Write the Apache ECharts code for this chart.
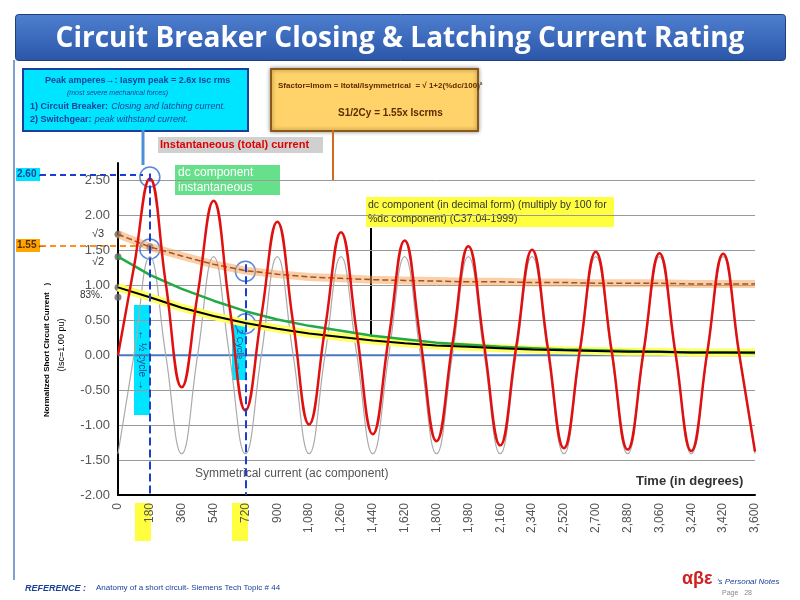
<!DOCTYPE html>
<html><head><meta charset="utf-8">
<script src="https://cdn.jsdelivr.net/npm/echarts@6/dist/echarts.min.js"></script>
<style>body{margin:0;background:#fff}#c{width:800px;height:600px}</style></head>
<body><div id="c"></div>
<script>
// degrees sampled every 90
const degrees = [];
for (let d = 0; d <= 3600; d += 90) degrees.push(d);
const totalCurrent = [0,1.26,2.53,1.03,-0.46,0.87,2.21,0.70,-0.79,0.56,1.91,0.46,-0.99,0.38,1.76,0.31,-1.13,0.25,1.64,0.20,-1.23,0.16,1.56,0.13,-1.29,0.11,1.51,0.09,-1.33,0.07,1.48,0.06,-1.35,0.05,1.46,0.04,-1.37,0.04,1.45,0.03,-1.38];
const symmetrical = [-1.41,0,1.41,0,-1.41,0,1.41,0,-1.41,0,1.41,0,-1.41,0,1.41,0,-1.41,0,1.41,0,-1.41,0,1.41,0,-1.41,0,1.41,0,-1.41,0,1.41,0,-1.41,0,1.41,0,-1.41,0,1.41,0,-1.41];
// every 180 degrees
const deg180 = [0,180,360,540,720,900,1080,1260,1440,1620,1800,1980,2160,2340,2520,2700,2880,3060,3240,3420,3600];
const dcInst = [1.41,1.15,0.95,0.78,0.63,0.51,0.42,0.35,0.28,0.23,0.18,0.15,0.12,0.10,0.08,0.07,0.06,0.05,0.04,0.04,0.03];
const dcDecimal = [0.97,0.83,0.68,0.56,0.46,0.38,0.31,0.26,0.21,0.17,0.14,0.12,0.10,0.08,0.07,0.06,0.05,0.05,0.04,0.04,0.04];
const sFactor = [1.73,1.55,1.42,1.30,1.21,1.16,1.12,1.10,1.08,1.07,1.06,1.05,1.05,1.04,1.04,1.03,1.03,1.03,1.02,1.02,1.02];
const xTicks = [0,180,360,540,720,900,1080,1260,1440,1620,1800,1980,2160,2340,2520,2700,2880,3060,3240,3420,3600];
const yTicks = [-2,-1.5,-1,-0.5,0,0.5,1,1.5,2,2.5];

const pair = (xs, ys) => xs.map((x, i) => [x, ys[i]]);
const ch = echarts.init(document.getElementById('c'));
ch.setOption({
  animation:false,
  title:{text:'Circuit Breaker Closing & Latching Current Rating',left:'center',top:20,textStyle:{color:'#fff',fontSize:28,fontWeight:'bold',fontFamily:'Open Sans'}},
  graphic:[
    {type:'rect',left:15,top:14,shape:{width:770,height:46,r:3},z:-1,style:{fill:new echarts.graphic.LinearGradient(0,0,0,1,[{offset:0,color:'#4f7fd0'},{offset:1,color:'#2a56a8'}]),stroke:'#1e3f80'}},
    {type:'line',shape:{x1:14,y1:60,x2:14,y2:580},style:{stroke:'#7f9fd0',lineWidth:2}},
    {type:'rect',left:22,top:68,shape:{width:225,height:62},style:{fill:'#00e5ff',stroke:'#1a3f9a',lineWidth:2}},
    {type:'text',left:30,top:74,style:{rich:{a:{fill:'#1a3f9a',fontSize:9,fontWeight:'bold'},b:{fill:'#1a3f9a',fontSize:7,fontStyle:'italic'},c:{fill:'#1a3f9a',fontSize:9,fontStyle:'italic'}},text:'{a|      Peak amperes→: Iasym peak = 2.6x Isc rms}\n{b|                   (most severe mechanical forces)}\n{a|1) Circuit Breaker:} {c|Closing and latching current.}\n{a|2) Switchgear:} {c|peak withstand current.}',lineHeight:13}},
    {type:'rect',left:270,top:68,shape:{width:207,height:62},style:{fill:'#ffd36a',stroke:'#8b5a1a',lineWidth:2,shadowBlur:4,shadowColor:'rgba(0,0,0,0.4)'}},
    {type:'text',left:278,top:82,style:{text:'Sfactor=Imom = Itotal/Isymmetrical  = √ 1+2(%dc/100)²',fill:'#5a2d00',fontSize:8,fontWeight:'bold'}},
    {type:'text',left:338,top:108,style:{text:'S1/2Cy = 1.55x Iscrms',fill:'#5a2d00',fontSize:10,fontWeight:'bold'}},
    {type:'line',shape:{x1:143,y1:130,x2:143,y2:165},style:{stroke:'#4a90d9',lineWidth:3}},
    {type:'line',shape:{x1:333,y1:130,x2:333,y2:180},style:{stroke:'#d2691e',lineWidth:2}},
    {type:'rect',left:158,top:137,shape:{width:165,height:16},style:{fill:'#d0d0d0'}},
    {type:'text',left:160,top:139,style:{text:'Instantaneous (total) current',fill:'#e00000',fontSize:11,fontWeight:'bold'}},
    {type:'rect',left:175,top:165,shape:{width:105,height:30},style:{fill:'#66e08a'}},
    {type:'text',left:178,top:165,style:{text:'dc component\ninstantaneous',fill:'#fff',fontSize:12,lineHeight:15}},
    {type:'rect',left:366,top:197,shape:{width:248,height:30},style:{fill:'#ffff40'}},
    {type:'text',left:368,top:198,style:{text:'dc component (in decimal form) (multiply by 100 for\n%dc component) (C37.04-1999)',fill:'#333',fontSize:10.5,lineHeight:14}},
    {type:'line',shape:{x1:371,y1:228,x2:371,y2:338},style:{stroke:'#000',lineWidth:2}},
    {type:'line',shape:{x1:40,y1:175,x2:143,y2:175},style:{stroke:'#1a3fd0',lineWidth:2,lineDash:[6,4]}},
    {type:'line',shape:{x1:40,y1:246,x2:143,y2:246},style:{stroke:'#ff9020',lineWidth:2,lineDash:[6,4]}},
    {type:'rect',left:16,top:168,shape:{width:24,height:13},style:{fill:'#00e5ff'}},
    {type:'text',left:17,top:169,style:{text:'2.60←',fill:'#1a3f9a',fontSize:10,fontWeight:'bold'}},
    {type:'rect',left:16,top:239,shape:{width:24,height:13},style:{fill:'#ffa500'}},
    {type:'text',left:17,top:240,style:{text:'1.55←',fill:'#5a2d00',fontSize:10,fontWeight:'bold'}},
    {type:'text',left:92,top:228,style:{text:'√3',fill:'#333',fontSize:11}},
    {type:'text',left:92,top:256,style:{text:'√2',fill:'#333',fontSize:11}},
    {type:'text',left:80,top:290,style:{text:'83%.',fill:'#333',fontSize:10}},
    {type:'text',x:47,y:350,rotation:Math.PI/2,style:{text:'Normalized Short Circuit Current   )',fill:'#000',fontSize:8,fontWeight:'bold',align:'center',verticalAlign:'middle'}},
    {type:'text',x:62,y:345,rotation:Math.PI/2,style:{text:'(Isc=1.00 pu)',fill:'#000',fontSize:9,align:'center',verticalAlign:'middle'}},
    {type:'rect',left:134,top:305,shape:{width:16,height:110},style:{fill:'#00e5ff'}},
    {type:'text',x:142,y:360,rotation:-Math.PI/2,style:{text:'← ½ cycle →',fill:'#1a3f9a',fontSize:10,align:'center',verticalAlign:'middle'}},
    {type:'rect',left:232,top:320,shape:{width:14,height:60},style:{fill:'#00e5ff'}},
    {type:'text',x:239,y:350,rotation:-Math.PI/2,style:{text:'2 Cycle →',fill:'#1a3f9a',fontSize:9,align:'center',verticalAlign:'middle'}},
    {type:'rect',left:135,top:503,shape:{width:16,height:38},style:{fill:'#ffff40'}},
    {type:'rect',left:232,top:503,shape:{width:16,height:38},style:{fill:'#ffff40'}},
    {type:'text',left:195,top:468,style:{text:'Symmetrical current (ac component)',fill:'#555',fontSize:12}},
    {type:'text',left:636,top:475,style:{text:'Time (in degrees)',fill:'#333',fontSize:13,fontWeight:'bold'}},
    {type:'text',left:25,top:584,style:{text:'REFERENCE :',fill:'#1a3f9a',fontSize:9,fontWeight:'bold',fontStyle:'italic'}},
    {type:'text',left:96,top:584,style:{text:'Anatomy of a short circuit- Siemens Tech Topic # 44',fill:'#1a3f9a',fontSize:8,textDecoration:'underline'}},
    {type:'text',left:682,top:570,style:{text:'αβε',fill:'#d02020',fontSize:18,fontWeight:'bold'}},
    {type:'text',left:717,top:578,style:{text:"'s Personal Notes",fill:'#1a3f9a',fontSize:8,fontStyle:'italic'}},
    {type:'text',left:722,top:590,style:{text:'Page   28',fill:'#888',fontSize:7}}
  ],
  grid:{left:118,right:45,top:163,bottom:105},
  xAxis:{type:'value',min:0,max:3600,interval:180,
    axisLine:{onZero:false,lineStyle:{color:'#000',width:2}},axisTick:{show:false},splitLine:{show:false},
    axisLabel:{rotate:90,color:'#555',fontSize:12,formatter:v=>xTicks.includes(v)?v.toLocaleString('en-US'):''}},
  yAxis:{type:'value',min:-2,max:2.75,interval:0.5,
    axisLine:{show:true,lineStyle:{color:'#000',width:2}},axisTick:{show:false},
    axisLabel:{color:'#555',fontSize:13,showMaxLabel:false,formatter:v=>yTicks.includes(v)?v.toFixed(2):''},
    splitLine:{show:true,showMaxLine:false,lineStyle:{color:'#999'}}},
  series:[
    {type:'line',data:pair(degrees,symmetrical),smooth:0.45,symbol:'none',lineStyle:{color:'#aaa',width:1.2}},
    {type:'line',data:pair(deg180,sFactor),symbol:'none',lineStyle:{color:'#f5a050',width:8,opacity:0.5}},
    {type:'line',data:pair(deg180,sFactor),symbol:'none',lineStyle:{color:'#a0522d',width:1.5,type:'dashed'}},
    {type:'line',data:pair(deg180,dcDecimal),symbol:'none',lineStyle:{color:'#ffff60',width:8}},
    {type:'line',data:pair(deg180,dcInst),symbol:'none',lineStyle:{color:'#22aa44',width:2.5}},
    {type:'line',data:pair(deg180,dcDecimal),symbol:'none',lineStyle:{color:'#000',width:2}},
    {type:'line',data:pair(degrees,totalCurrent),smooth:0.45,symbol:'none',lineStyle:{color:'#e01010',width:2.5},
      markLine:{silent:true,symbol:'none',lineStyle:{color:'#1a3fd0',type:'dashed',width:2},label:{show:false},
        data:[[{coord:[180,2.6]},{coord:[180,-2]}],[{coord:[720,1.3]},{coord:[720,-2]}]]}},
    {type:'line',data:[[0,0],[3600,0]],symbol:'none',lineStyle:{color:'#4a7ac0',width:2},z:1},
    {type:'scatter',data:[[180,2.55],[180,1.52],[720,1.2],[720,0.45]],symbol:'circle',symbolSize:20,itemStyle:{color:'rgba(0,0,0,0)',borderColor:'#2a6ad0',borderWidth:1.5}},
    {type:'scatter',data:[[0,1.73],[180,1.55],[0,1.41],[0,0.97],[0,0.83],[180,0.83]],symbolSize:7,itemStyle:{color:'#666'}}
  ]
});
</script></body></html>
